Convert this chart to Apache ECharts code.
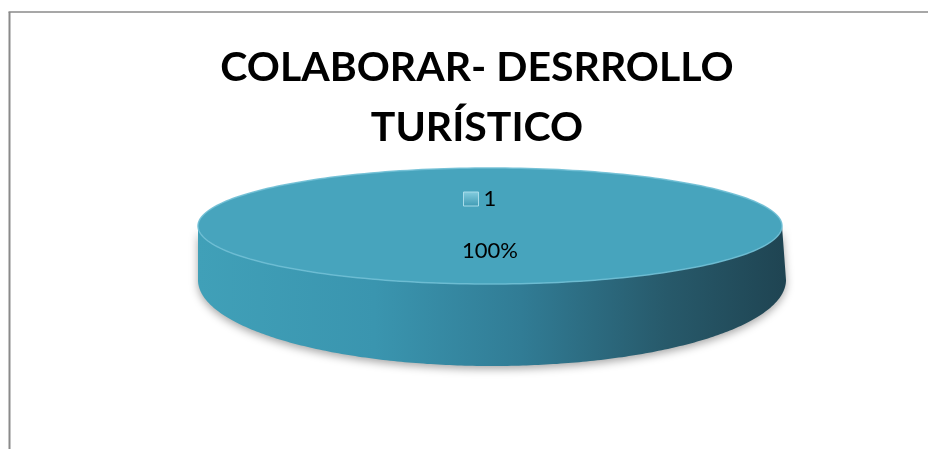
<!DOCTYPE html>
<html>
<head>
<meta charset="utf-8">
<script src="https://cdn.jsdelivr.net/npm/echarts@6/dist/echarts.min.js"></script>
<style>
html,body{margin:0;padding:0;background:#fff;}
#c{width:928px;height:449px;}
</style>
</head>
<body>
<div id="c"></div>
<script>
// ---- data ----
const titleText = 'COLABORAR- DESRROLLO\nTURÍSTICO';
const categories = ['1'];
const values = [100];

const total = values.reduce((a, b) => a + b, 0);
const starts = [];
let acc = 0;
values.forEach(v => { starts.push(acc); acc += v; });

// ellipse geometry (top face and bottom rim)
const G = { cx: 490, cy: 226, rx: 292, ry: 58, bcx: 492, bcy: 280, brx: 294, bry: 86 };

function ellPt(cx, cy, rx, ry, a) { return [cx + rx * Math.cos(a), cy + ry * Math.sin(a)]; }

function makeRender(i) {
  return function (params, api) {
    const v = api.value(0);
    const a0 = -Math.PI / 2 + starts[i] / total * Math.PI * 2;
    const a1 = a0 + v / total * Math.PI * 2;
    const full = v / total >= 1;
    const N = 240;
    const top = [];
    if (!full) top.push([G.cx, G.cy]);
    for (let k = 0; k <= N; k++) top.push(ellPt(G.cx, G.cy, G.rx, G.ry, a0 + (a1 - a0) * k / N));
    const children = [];
    let w0 = Math.max(0, a0), w1 = Math.min(Math.PI, a1);
    if (full) { w0 = 0; w1 = Math.PI; }
    if (w1 > w0) {
      const wall = [];
      for (let k = 0; k <= N; k++) wall.push(ellPt(G.cx, G.cy, G.rx, G.ry, w0 + (w1 - w0) * k / N));
      for (let k = N; k >= 0; k--) wall.push(ellPt(G.bcx, G.bcy, G.brx, G.bry, w0 + (w1 - w0) * k / N));
      children.push({
        type: 'polygon', shape: { points: wall },
        style: {
          fill: new echarts.graphic.LinearGradient(0, 0, 1, 0, [
            { offset: 0, color: '#40A0B8' },
            { offset: 0.3, color: '#3A95AF' },
            { offset: 0.55, color: '#317C95' },
            { offset: 0.8, color: '#27596A' },
            { offset: 1, color: '#1F4452' }
          ]),
          shadowBlur: 8, shadowColor: 'rgba(0,0,0,0.35)', shadowOffsetY: 3
        }
      });
    }
    children.push({
      type: 'polygon', shape: { points: top },
      style: { fill: '#47A4BD', stroke: 'rgba(110,190,212,0.9)', lineWidth: 1.5 }
    });
    const mid = (a0 + a1) / 2;
    const lp = full ? [G.cx, G.cy + 25] : ellPt(G.cx, G.cy, G.rx * 0.6, G.ry * 0.6, mid);
    children.push({
      type: 'text',
      style: {
        x: lp[0], y: lp[1],
        text: Math.round(v / total * 100) + '%',
        align: 'center', verticalAlign: 'middle',
        font: '22px Lato', fill: '#000'
      }
    });
    return { type: 'group', children: children };
  };
}

const chart = echarts.init(document.getElementById('c'), null, { renderer: 'canvas' });

const option = {
  backgroundColor: '#ffffff',
  animation: false,
  title: {
    text: titleText,
    left: 472,
    top: 33,
    textAlign: 'center',
    textStyle: { fontFamily: 'Lato', fontWeight: 'bold', fontSize: 41, lineHeight: 60, color: '#000' }
  },
  legend: {
    data: categories,
    left: 458,
    top: 183,
    itemWidth: 15,
    itemHeight: 14,
    itemGap: 8,
    icon: 'rect',
    textStyle: { fontFamily: 'Lato', fontSize: 22, color: '#000' },
    itemStyle: {
      color: new echarts.graphic.LinearGradient(0, 0, 0, 1, [
        { offset: 0, color: '#86CEE0' }, { offset: 1, color: '#3E9AB3' }
      ]),
      borderColor: '#A8DCEA', borderWidth: 1
    }
  },
  graphic: [
    { type: 'line', silent: true, z: -10, shape: { x1: 9.5, y1: 12, x2: 9.5, y2: 449 }, style: { stroke: '#8A8A8A', lineWidth: 2 } },
    { type: 'line', silent: true, z: -10, shape: { x1: 8.5, y1: 12, x2: 928, y2: 12 }, style: { stroke: '#8A8A8A', lineWidth: 1.5 } }
  ],
  series: categories.map((c, i) => ({
    type: 'custom',
    name: c,
    coordinateSystem: 'none',
    itemStyle: { color: '#47A4BD' },
    data: [{ name: c, value: values[i] }],
    renderItem: makeRender(i)
  }))
};
chart.setOption(option);
</script>
</body>
</html>
